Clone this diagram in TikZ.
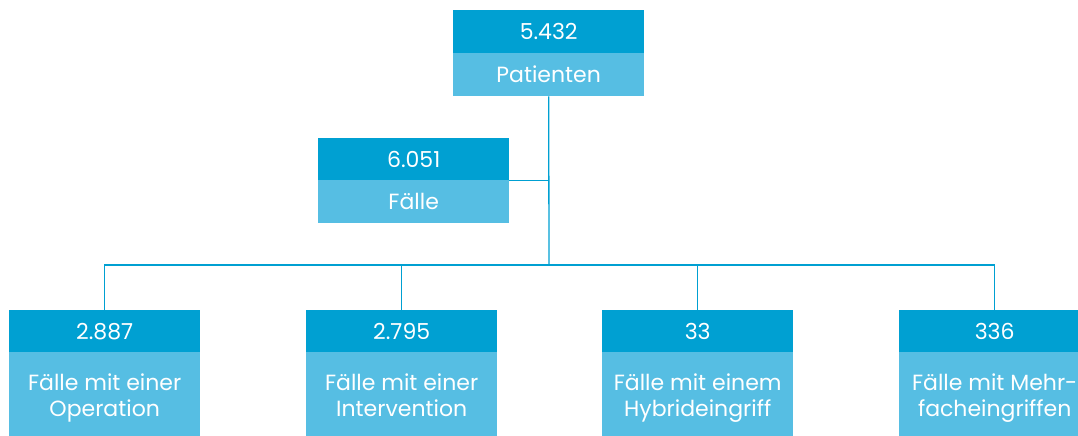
\documentclass[tikz,border=0pt]{standalone}
\usepackage{fontspec}
\setmainfont{Poppins}
\definecolor{dblue}{RGB}{0,160,210}
\definecolor{lblue}{RGB}{86,190,227}
\newcommand\firststrut{\rule{0pt}{25pt}}
\newcommand\laststrut{\rule[-7pt]{0pt}{7pt}}
\begin{document}
\begin{tikzpicture}[x=1pt,y=-1pt,
  boxfont/.style={font=\fontsize{22}{26}\selectfont},
  hd/.style={fill=dblue,text=white,minimum width=191pt,minimum height=43pt,inner sep=0pt,anchor=north west,boxfont},
  bd/.style={fill=lblue,text=white,minimum width=191pt,minimum height=43pt,inner sep=0pt,anchor=north west,boxfont,align=center},
  tall/.style={minimum height=84pt},
  conn/.style={draw=dblue,line width=1.3pt}]
\useasboundingbox (0,0) rectangle (1078,436);
\clip (0,0) rectangle (1078,436);
% top
\node[hd] (pn) at (453,10) {5.432};
\node[bd] (pl) at (453,53) {Patienten};
% Faelle
\node[hd,minimum height=42pt] (fn) at (318,138) {6.051};
\node[bd] (fl) at (318,180) {Fälle};
% bottom
\node[hd,minimum height=42pt] (an) at (9,310) {2.887};
\node[bd,tall] (al) at (9,352) {\firststrut Fälle mit einer\\Operation\laststrut};
\node[hd,minimum height=42pt] (bn) at (306,310) {2.795};
\node[bd,tall] (bl) at (306,352) {\firststrut Fälle mit einer\\Intervention\laststrut};
\node[hd,minimum height=42pt] (cn) at (602,310) {33};
\node[bd,tall] (cl) at (602,352) {\firststrut Fälle mit einem\\Hybrideingriff\laststrut};
\node[hd,minimum height=42pt] (dn) at (899,310) {336};
\node[bd,tall] (dl) at (899,352) {\firststrut Fälle mit Mehr-\\facheingriffen\laststrut};
% connectors
\coordinate (j) at (549,265);
\draw[conn] (pl.south) -- (j);
\draw[conn] (fn.south east) -- (fn.south east -| pl.south);
\draw[conn] (an.north) |- (dn.north |- j) -- (dn.north);
\draw[conn] (bn.north) -- (bn.north |- j);
\draw[conn] (cn.north) -- (cn.north |- j);
\end{tikzpicture}
\end{document}
